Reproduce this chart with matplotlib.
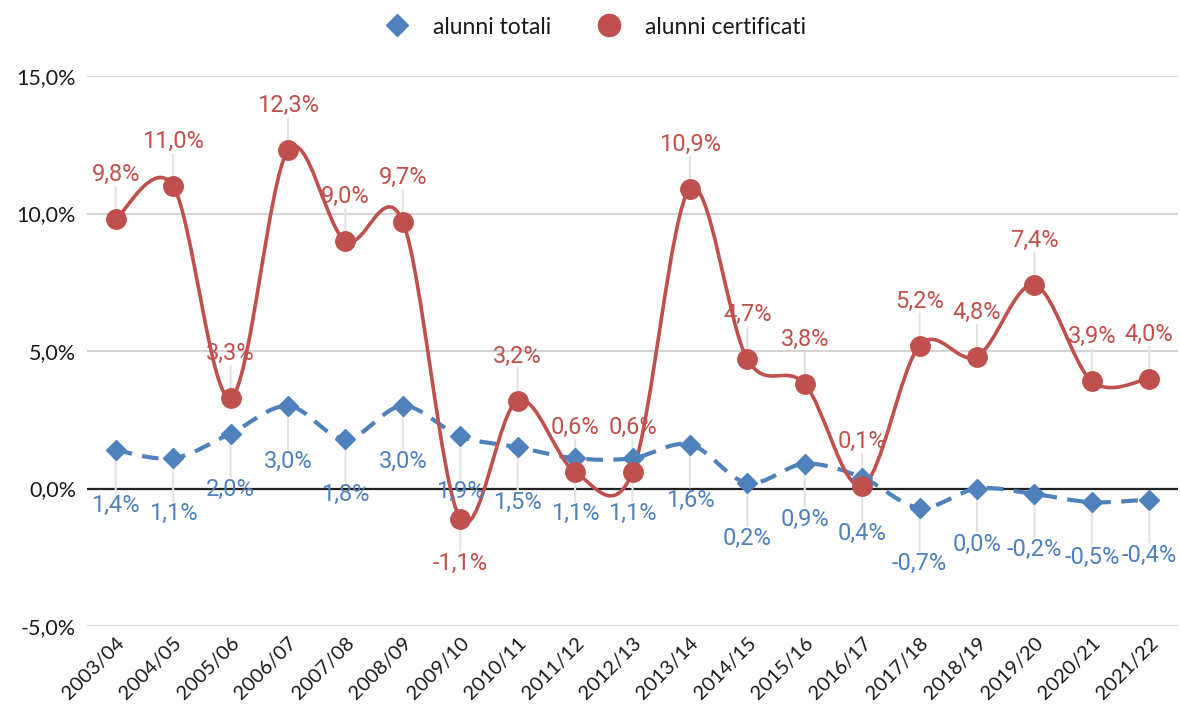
import matplotlib
matplotlib.use("Agg")
import matplotlib.pyplot as plt
from matplotlib.path import Path
from matplotlib.patches import PathPatch
from matplotlib.lines import Line2D
import numpy as np

anni = ["2003/04", "2004/05", "2005/06", "2006/07", "2007/08", "2008/09", "2009/10",
        "2010/11", "2011/12", "2012/13", "2013/14", "2014/15", "2015/16", "2016/17",
        "2017/18", "2018/19", "2019/20", "2020/21", "2021/22"]
alunni_totali = [1.4, 1.1, 2.0, 3.0, 1.8, 3.0, 1.9, 1.5, 1.1, 1.1, 1.6, 0.2, 0.9, 0.4,
                 -0.7, 0.0, -0.2, -0.5, -0.4]
alunni_certificati = [9.8, 11.0, 3.3, 12.3, 9.0, 9.7, -1.1, 3.2, 0.6, 0.6, 10.9, 4.7, 3.8, 0.1,
                      5.2, 4.8, 7.4, 3.9, 4.0]

BLU = "#4f81bd"
ROSSO = "#c0504d"
LABEL_FONT = "Roboto"
TICK_FONT = "Lato"


def pct(v):
    return f"{v:.1f}%".replace(".", ",")


def smooth_path(x, y):
    # curva tipo Excel "linea smussata" (Catmull-Rom -> Bezier)
    n = len(x)
    verts = [(x[0], y[0])]
    codes = [Path.MOVETO]
    for i in range(n - 1):
        a = max(i - 1, 0)
        d = min(i + 2, n - 1)
        c1 = (x[i] + (x[i + 1] - x[a]) / 6, y[i] + (y[i + 1] - y[a]) / 6)
        c2 = (x[i + 1] - (x[d] - x[i]) / 6, y[i + 1] - (y[d] - y[i]) / 6)
        verts += [c1, c2, (x[i + 1], y[i + 1])]
        codes += [Path.CURVE4] * 3
    return Path(verts, codes)


fig = plt.figure(figsize=(11.8, 7.12), dpi=100)
ax = fig.add_axes([87 / 1180, 1 - 626 / 712, (1178 - 87) / 1180, (626 - 76) / 712])
x = np.arange(len(anni))

ax.set_xlim(-0.5, len(anni) - 0.5)
ax.set_ylim(-5, 15)
ax.set_yticks([-5, 0, 5, 10, 15])
ax.set_yticklabels([pct(v) for v in [-5, 0, 5, 10, 15]], fontsize=15.5, family=TICK_FONT, color="#1a1a1a")
ax.set_xticks(x)
ax.set_xticklabels(anni, rotation=45, ha="right", rotation_mode="anchor",
                   fontsize=14.5, family=TICK_FONT, color="#1a1a1a")
ax.tick_params(length=0, pad=8)
ax.tick_params(axis="x", pad=6)
for s in ax.spines.values():
    s.set_visible(False)
ax.yaxis.grid(True, color="#d4d4d4", lw=1.5, zorder=0)
ax.set_axisbelow(True)
ax.axhline(0, color="#222222", lw=1.6, zorder=1.5)

# linee smussate
ax.add_patch(PathPatch(smooth_path(x, alunni_totali), fill=False, edgecolor=BLU, lw=3,
                       linestyle=(0, (4, 2.5)), zorder=3))
ax.add_patch(PathPatch(smooth_path(x, alunni_certificati), fill=False, edgecolor=ROSSO, lw=2.6,
                       zorder=3.2))
ax.plot(x, alunni_totali, linestyle="none", marker="D", ms=10.5, color=BLU, zorder=4)
ax.plot(x, alunni_certificati, linestyle="none", marker="o", ms=14, color=ROSSO, zorder=4.2)

# etichette con linee guida
for i, v in enumerate(alunni_totali):
    off = -40
    ax.annotate("", xy=(i, v), xytext=(0, off + 9), textcoords="offset points",
                arrowprops=dict(arrowstyle="-", color="#e3e3e3", lw=1.5, shrinkA=0, shrinkB=0),
                zorder=2)
    ax.annotate(pct(v), xy=(i, v), xytext=(0, off), textcoords="offset points",
                ha="center", va="center", fontsize=17, family=LABEL_FONT,
                color=BLU, zorder=5)
for i, v in enumerate(alunni_certificati):
    off = 32 if v >= 0 else -32
    ax.annotate("", xy=(i, v), xytext=(0, off - np.sign(off) * 9), textcoords="offset points",
                arrowprops=dict(arrowstyle="-", color="#e3e3e3", lw=1.5, shrinkA=0, shrinkB=0),
                zorder=2)
    ax.annotate(pct(v), xy=(i, v), xytext=(0, off), textcoords="offset points",
                ha="center", va="center", fontsize=17, family=LABEL_FONT,
                color=ROSSO, zorder=5)

handles = [Line2D([], [], linestyle="none", marker="D", ms=11, color=BLU),
           Line2D([], [], linestyle="none", marker="o", ms=16, color=ROSSO)]
fig.legend(handles, ["alunni totali", "alunni certificati"], loc="center",
           bbox_to_anchor=(0.5, 1 - 27 / 712), ncol=2, frameon=False,
           prop={"family": TICK_FONT, "size": 16.5}, handletextpad=0.6, columnspacing=1.5,
           labelcolor="#1a1a1a")

fig.savefig("out.png", dpi=100)
